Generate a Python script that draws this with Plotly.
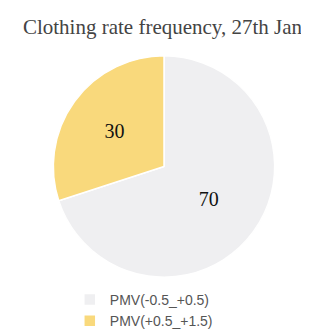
import plotly.graph_objects as go

labels = ["PMV(-0.5_+0.5)", "PMV(+0.5_+1.5)"]
values = [70, 30]
colors = ["#efeff1", "#f9d97c"]

W, H = 309, 329
cx, cy, r = 156, 159, 111

fig = go.Figure(go.Pie(
    labels=labels, values=values, sort=False, direction="clockwise", rotation=0,
    marker=dict(colors=colors, line=dict(color="white", width=1.5)),
    textinfo="value", textposition="inside", insidetextorientation="horizontal",
    textfont=dict(family="Liberation Serif", size=20, color="#111"),
    hoverinfo="label+value",
    domain=dict(x=[(cx - r) / W, (cx + r) / W], y=[1 - (cy + r) / H, 1 - (cy - r) / H]),
))
fig.update_layout(
    width=W, height=H,
    margin=dict(l=0, r=0, t=0, b=0),
    paper_bgcolor="white",
    title=dict(text="Clothing rate frequency, 27th Jan", x=0.5, xanchor="center", y=1 - 19 / H, yanchor="middle",
               font=dict(family="Liberation Serif", size=21, color="#444")),
    legend=dict(orientation="v", x=0.2, y=1 - 277 / H,
                xanchor="left", yanchor="top", font=dict(family="Liberation Sans", size=14, color="#555"),
                tracegroupgap=0, bgcolor="rgba(0,0,0,0)"),
    showlegend=True,
)
fig.write_html("out.html")
